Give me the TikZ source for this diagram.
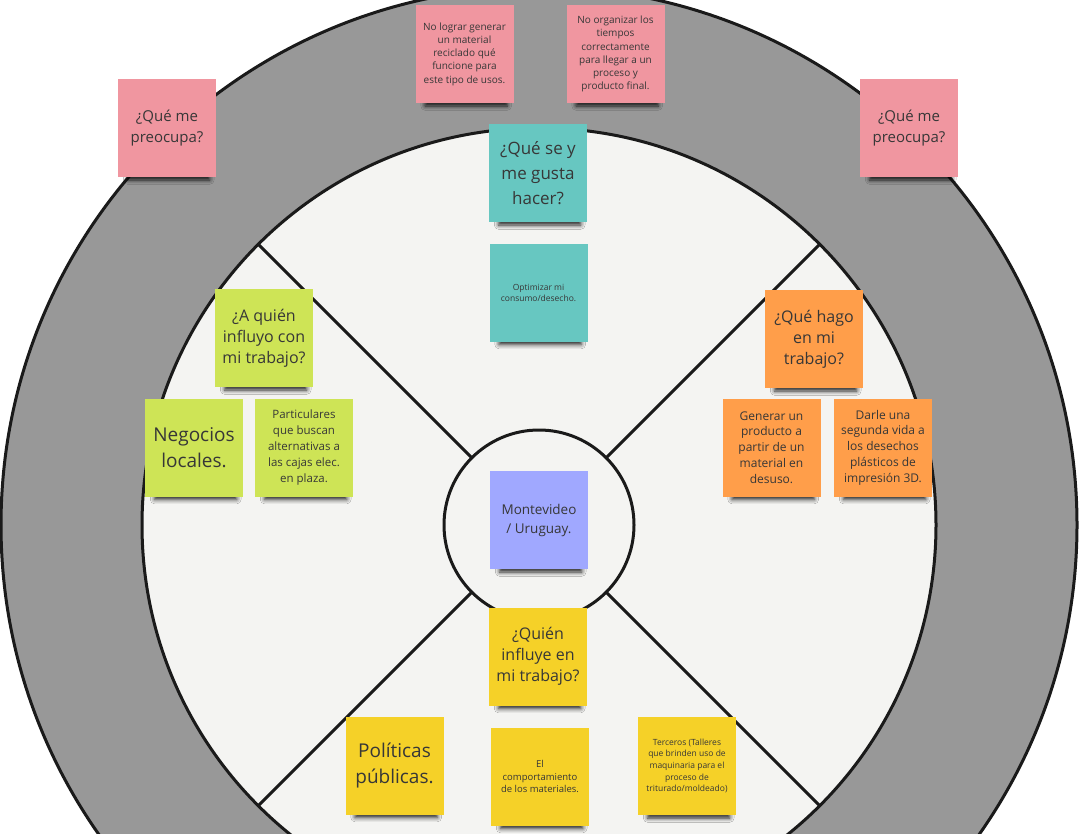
\documentclass[tikz,border=0pt]{standalone}
\usepackage{fontspec}
\setmainfont{Open Sans}
\usetikzlibrary{shadows.blur}
\definecolor{ring}{RGB}{152,152,152}
\definecolor{inner}{RGB}{244,244,242}
\definecolor{edge}{RGB}{26,26,26}
\definecolor{ink}{RGB}{55,55,55}
\definecolor{notepink}{RGB}{240,150,160}
\definecolor{noteteal}{RGB}{103,199,193}
\definecolor{noteorange}{RGB}{255,158,74}
\definecolor{notelime}{RGB}{206,228,86}
\definecolor{noteblue}{RGB}{160,168,255}
\definecolor{noteyellow}{RGB}{245,209,40}
\def\fs#1#2{\fontsize{#1}{#2}\selectfont}
\tikzset{
	note/.style={minimum width=98pt, minimum height=98pt, inner sep=0pt, align=center, text=ink,
		blur shadow={shadow xshift=2pt, shadow yshift=-13pt, shadow scale=0.84, shadow opacity=85, shadow blur radius=5pt}},
	pinknote/.style={note, fill=notepink},
	tealnote/.style={note, fill=noteteal},
	orangenote/.style={note, fill=noteorange},
	limenote/.style={note, fill=notelime},
	bluenote/.style={note, fill=noteblue},
	yellownote/.style={note, fill=noteyellow}
}

\begin{document}
\begin{tikzpicture}[x=1pt, y=-1pt]
			%%%%% START %%%%%
			\clip (0, 0) rectangle (1081, 833);
			\fill[white] (0, 0) rectangle (1081, 833);
			
			\draw[line width = 3pt, draw=edge, fill=ring] (539, 525) circle (538);
			\draw[line width = 3pt, draw=edge, fill=inner] (539, 525) circle (397);
			
			\draw[line width = 3pt, draw=edge] (539, 525) ++(45:95) -- ++(45:302);
			\draw[line width = 3pt, draw=edge] (539, 525) ++(135:95) -- ++(135:302);
			\draw[line width = 3pt, draw=edge] (539, 525) ++(225:95) -- ++(225:302);
			\draw[line width = 3pt, draw=edge] (539, 525) ++(315:95) -- ++(315:302);
			\draw[line width = 3pt, draw=edge, fill=inner] (539, 525) circle (95);
			
			% preocupaciones
			\node[pinknote, font=\fs{15}{21}] (preocupaL) at (167, 128) {¿Qué me\\preocupa?};
			\node[pinknote, font=\fs{15}{21}] (preocupaR) at (909, 128) {¿Qué me\\preocupa?};
			\node[pinknote, font=\fs{10}{13.2}] (lograr) at (464.5, 54) {No lograr generar\\un material\\reciclado qué\\funcione para\\este tipo de usos.};
			\node[pinknote, font=\fs{10}{13.2}] (organizar) at (615.5, 54) {No organizar los\\tiempos\\correctamente\\para llegar a un\\proceso y\\producto final.};
			
			% gusta
			\node[tealnote, font=\fs{17}{25}] (gusta) at (538, 173) {¿Qué se y\\me gusta\\hacer?};
			\node[tealnote, font=\fs{8.5}{11}] (optimizar) at (538.5, 292.5) {Optimizar mi\\consumo/desecho.};
			
			% hago
			\node[orangenote, font=\fs{16}{21}] (hago) at (814, 339) {¿Qué hago\\en mi\\trabajo?};
			\node[orangenote, font=\fs{12}{15.8}] (generar) at (771.5, 447.5) {Generar un\\producto a\\partir de un\\material en\\desuso.};
			\node[orangenote, font=\fs{12}{15.8}] (darle) at (883, 447.5) {Darle una\\segunda vida a\\los desechos\\plásticos de\\impresión 3D.};
			
			% influyo
			\node[limenote, font=\fs{16}{21}] (influyo) at (264, 338) {¿A quién\\influyo con\\mi trabajo?};
			\node[limenote, font=\fs{19}{26}] (negocios) at (194, 447.5) {Negocios\\locales.};
			\node[limenote, font=\fs{11.5}{15.8}] (particulares) at (304, 447.5) {Particulares\\que buscan\\alternativas a\\las cajas elec.\\en plaza.};
			
			% lugar
			\node[bluenote, font=\fs{13.5}{19}] (lugar) at (539, 520) {Montevideo\\/ Uruguay.};
			
			% influye
			\node[yellownote, font=\fs{16}{21}] (influye) at (538, 656.5) {¿Quién\\influye en\\mi trabajo?};
			\node[yellownote, font=\fs{19}{26}] (politicas) at (394.5, 765.5) {Políticas\\públicas.};
			\node[yellownote, font=\fs{9.5}{12.8}] (materiales) at (540, 776.5) {El\\comportamiento\\de los materiales.};
			\node[yellownote, font=\fs{8.5}{11.7}] (terceros) at (687, 766) {Terceros (Talleres\\que brinden uso de\\maquinaria para el\\proceso de\\triturado/moldeado)};
			%%%%% END %%%%%
\end{tikzpicture}
\end{document}
